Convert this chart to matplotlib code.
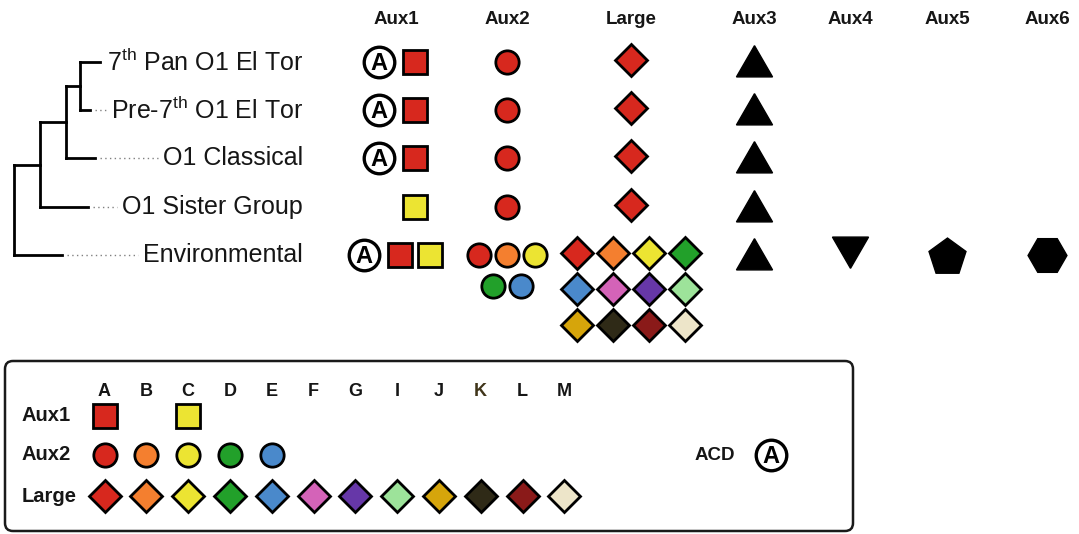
import matplotlib
matplotlib.use("Agg")
import matplotlib.pyplot as plt
from matplotlib.patches import FancyBboxPatch

plt.rcParams['font.family'] = ['Liberation Sans', 'DejaVu Sans']
plt.rcParams['mathtext.fontset'] = 'custom'
plt.rcParams['mathtext.rm'] = 'Liberation Sans'
plt.rcParams['mathtext.bf'] = 'Liberation Sans:bold'

# ---- data -------------------------------------------------------------
strains = [r"7$^{\mathrm{th}}$ Pan O1 El Tor",
           r"Pre-7$^{\mathrm{th}}$ O1 El Tor",
           "O1 Classical",
           "O1 Sister Group",
           "Environmental"]

# cladogram: (child_a, child_b, branch length from parent)
tree = {
    "n3": (0, 1, 14),
    "n2": ("n3", 2, 26),
    "n1": ("n2", 3, 26),
    "root": ("n1", 4, 0),
}
tip_branch = [20, 10, 29, 48, 48]

columns = ["Aux1", "Aux2", "Large", "Aux3", "Aux4", "Aux5", "Aux6"]

acd_present = [True, True, True, False, True]
aux1_alleles = [["A"], ["A"], ["A"], ["C"], ["A", "C"]]
aux2_alleles = [["A"], ["A"], ["A"], ["A"], ["A", "B", "C", "D", "E"]]
large_alleles = [["A"], ["A"], ["A"], ["A"],
                 ["A", "B", "C", "D", "E", "F", "G", "I", "J", "K", "L", "M"]]
aux3_present = [True, True, True, True, True]
aux4_present = [False, False, False, False, True]
aux5_present = [False, False, False, False, True]
aux6_present = [False, False, False, False, True]

allele_letters = ["A", "B", "C", "D", "E", "F", "G", "I", "J", "K", "L", "M"]
allele_colors = ["#d7281e", "#f47f2f", "#ece432", "#22a02a", "#4a89cb", "#d463b8",
                 "#6637a8", "#9de39a", "#d6a50b", "#2f2a17", "#8a1a19", "#ede5c9"]
legend_aux1 = ["A", "C"]
legend_aux2 = ["A", "B", "C", "D", "E"]
legend_large = allele_letters
color_of = dict(zip(allele_letters, allele_colors))

# ---- figure -------------------------------------------------------------
W, H = 1079, 534
fig = plt.figure(figsize=(W / 100, H / 100), dpi=100)
ax = fig.add_axes([0, 0, 1, 1])
ax.set_xlim(0, W)
ax.set_ylim(H, 0)
ax.axis("off")

INK = "#161616"
row_y = [62, 110, 158, 207, 255]
col_x = [415, 507, 631, 754, 850, 947, 1047]
header_x = [396, 507, 631, 754, 850, 947, 1047]
EDGE = 2.0

for name, x in zip(columns, header_x):
    ax.text(x, 19, name, ha="center", va="center", fontsize=13.5,
            fontweight="bold", color=INK)

# strain labels, right aligned
label_right = 303
label_objs = []
for s, y in zip(strains, row_y):
    t = ax.text(label_right, y, s, ha="right", va="center", fontsize=18,
                color=INK)
    label_objs.append(t)

# cladogram
root_x = 14
node_pos = {}


def place(node, x):
    a, b, _ = tree[node]
    ys = []
    kids = []
    for c in (a, b):
        if isinstance(c, str):
            cx = x + tree[c][2]
            cy = place(c, cx)
            kids.append((cx, cy))
        else:
            cy = row_y[c]
            kids.append((x + tip_branch[c], cy, c))
        ys.append(cy)
    ny = (ys[0] + ys[1]) / 2
    node_pos[node] = (x, ny, kids)
    return ny


place("root", root_x)
lw_tree = 2.0
fig.canvas.draw()
renderer = fig.canvas.get_renderer()
inv = ax.transData.inverted()
for node, (x, y, kids) in node_pos.items():
    ys = [k[1] for k in kids]
    ax.plot([x, x], [min(ys), max(ys)], color="black", lw=lw_tree,
            solid_capstyle="projecting")
    for k in kids:
        ax.plot([x, k[0]], [k[1], k[1]], color="black", lw=lw_tree,
                solid_capstyle="projecting")
        if len(k) == 3:
            bb = label_objs[k[2]].get_window_extent(renderer)
            lx = inv.transform((bb.x0, 0))[0] - 5
            if lx > k[0] + 5:
                ax.plot([k[0] + 5, lx], [k[1], k[1]], color="#808080",
                        lw=1.0, linestyle=(0, (1, 2.4)))


def acd(x, y):
    ax.plot(x, y, "o", ms=22, mfc="white", mec="black", mew=2.4, zorder=3)
    ax.text(x, y + 1.5, "A", ha="center", va="center", fontsize=17,
            fontweight="bold", color="black", zorder=4)


def marker(x, y, m, color, ms, mew=EDGE):
    ax.plot(x, y, m, ms=ms, mfc=color, mec="black", mew=mew, zorder=3)


SQ, CI, DI = 17, 16.8, 16.5

# Aux1
for y, has_acd, alle in zip(row_y, acd_present, aux1_alleles):
    n = len(alle)
    xs = [col_x[0] + 30 * (i - (n - 1) / 2) for i in range(n)]
    for x, a in zip(xs, alle):
        marker(x, y, "s", color_of[a], SQ)
    if has_acd:
        acd(xs[0] - 36, y)

# Aux2 (wrap 3 per row)
for y, alle in zip(row_y, aux2_alleles):
    rows = [alle[i:i + 3] for i in range(0, len(alle), 3)]
    for r, grp in enumerate(rows):
        n = len(grp)
        for i, a in enumerate(grp):
            marker(col_x[1] + 28 * (i - (n - 1) / 2), y + 30.5 * r, "o",
                   color_of[a], CI)

# Large (wrap 4 per row)
for y, alle in zip(row_y, large_alleles):
    rows = [alle[i:i + 4] for i in range(0, len(alle), 4)]
    for r, grp in enumerate(rows):
        n = len(grp)
        for i, a in enumerate(grp):
            marker(col_x[2] + 36.2 * (i - (n - 1) / 2), y - 2 + 36.2 * r, "D",
                   color_of[a], DI)

# Aux3-Aux6
shapes = [(3, 0, 0), (3, 0, 180), (5, 0, 0), (6, 0, 30)]
sizes = [30, 30, 28, 28]
offsets = [4, -8, 1.5, 0]
for ci, pres in enumerate([aux3_present, aux4_present, aux5_present, aux6_present]):
    for y, p in zip(row_y, pres):
        if p:
            ax.plot(col_x[3 + ci], y + offsets[ci], marker=shapes[ci],
                    ms=sizes[ci], color="black", linestyle="none")

# ---- key box -------------------------------------------------------------
box = FancyBboxPatch((5, 361), 848, 170,
                     boxstyle="round,pad=0,rounding_size=8",
                     fc="white", ec="#1a1a1a", lw=1.8, zorder=1)
ax.add_patch(box)

key_x0, key_dx = 104.5, 41.8
key_x = {a: key_x0 + key_dx * i for i, a in enumerate(allele_letters)}
for a in allele_letters:
    ax.text(key_x[a], 391, a, ha="center", va="center", fontsize=13,
            fontweight="bold", color="#40351a" if a == "K" else INK)

key_rows = [("Aux1", legend_aux1, "s", SQ, 415.5),
            ("Aux2", legend_aux2, "o", CI, 455),
            ("Large", legend_large, "D", DI, 496)]
for lab, alle, m, ms, y in key_rows:
    ax.text(22, y, lab, ha="left", va="center", fontsize=14.5,
            fontweight="bold", color=INK)
    for a in alle:
        marker(key_x[a], y, m, color_of[a], ms)

ax.text(715, 455, "ACD", ha="center", va="center", fontsize=13.5,
        fontweight="bold", color=INK)
acd(771, 455)

fig.savefig("out.png", dpi=100, facecolor="white")
